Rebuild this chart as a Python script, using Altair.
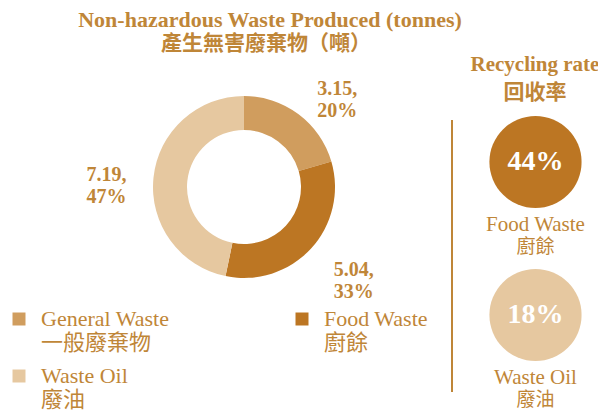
import altair as alt
import pandas as pd

# ---- data ----
categories = ["General Waste", "Food Waste", "Waste Oil"]
categories_zh = ["一般廢棄物", "廚餘", "廢油"]
tonnes = [3.15, 5.04, 7.19]
slice_colors = ["#D09D5E", "#BC7623", "#E6C8A0"]

rate_categories = ["Food Waste", "Waste Oil"]
rate_categories_zh = ["廚餘", "廢油"]
rates = [44, 18]

title_en = "Non-hazardous Waste Produced (tonnes)"
title_zh = "產生無害廢棄物（噸）"
rate_title_en = "Recycling rate"
rate_title_zh = "回收率"

TEXT = "#BF8638"
FONT = "'Liberation Serif', 'Noto Sans CJK TC'"

waste = pd.DataFrame({"category": categories, "zh": categories_zh,
                      "tonnes": tonnes, "order": list(range(len(categories)))})
rate_df = pd.DataFrame({"category": rate_categories, "zh": rate_categories_zh,
                        "rate": rates})

zh_lookup = "''"
for en, zh in reversed(list(zip(categories, categories_zh))):
    zh_lookup = f"datum.label == '{en}' ? '{zh}' : ({zh_lookup})"
label_expr = f"[datum.label, {zh_lookup}]"

CX, CY = 236, 179

color = alt.Color(
    "category:N",
    scale=alt.Scale(domain=categories, range=slice_colors),
    legend=alt.Legend(
        title=None, orient="none", legendX=0, legendY=300, columns=2,
        direction="horizontal", padding=0,
        symbolType="square", symbolSize=169, symbolStrokeWidth=0,
        labelFont=FONT, labelFontSize=22, labelColor=TEXT,
        labelOffset=11, rowPadding=11, columnPadding=121,
        labelExpr=label_expr, labelLimit=300,
    ),
)

theta = alt.Theta("tonnes:Q", stack=True)
order = alt.Order("order:Q")

arc = alt.Chart(waste).mark_arc(outerRadius=91, innerRadius=57).encode(
    theta=theta, order=order, color=color,
    x=alt.value(CX), y=alt.value(CY),
)

lab_base = (
    alt.Chart(waste)
    .transform_joinaggregate(total="sum(tonnes)")
    .transform_window(cum="sum(tonnes)", sort=[alt.SortField("order")], frame=[None, 0])
    .transform_calculate(
        mid="datum.cum - datum.tonnes / 2",
        lines="[format(datum.tonnes, '.2f') + ',', format(100 * datum.tonnes / datum.total, '.0f') + '%']",
    )
)
lab_right = lab_base.transform_calculate(
    t="datum.mid < datum.total / 2 ? datum.lines : ''"
).mark_text(radius=122, align="left", baseline="middle", font=FONT, fontSize=20,
            fontWeight="bold", color=TEXT, lineHeight=22).encode(
    theta=theta, order=order, text="t:N", x=alt.value(CX), y=alt.value(CY))
lab_left = lab_base.transform_calculate(
    t="datum.mid >= datum.total / 2 ? datum.lines : ''"
).mark_text(radius=118, align="right", baseline="middle", font=FONT, fontSize=20,
            fontWeight="bold", color=TEXT, lineHeight=22).encode(
    theta=theta, order=order, text="t:N", x=alt.value(CX), y=alt.value(CY))


def title_text(txt, x, y, size):
    return alt.Chart(pd.DataFrame({"t": [txt]})).mark_text(
        font=FONT, fontSize=size, fontWeight="bold", color=TEXT,
        align="center", baseline="alphabetic",
    ).encode(text="t:N", x=alt.value(x), y=alt.value(y))


titles = [
    title_text(title_en, 262, 19, 22),
    title_text(title_zh, 258, 42, 21),
    title_text(rate_title_en, 527, 63, 21),
    title_text(rate_title_zh, 527, 91, 21),
]

RX = 527.5
ry = alt.Y("category:N", scale=alt.Scale(domain=rate_categories, range=[154, 307], padding=0),
           axis=None)

circles = alt.Chart(rate_df).mark_circle(size=8495, opacity=1).encode(
    x=alt.value(RX), y=ry, color=alt.Color("category:N"))
pct = alt.Chart(rate_df).transform_calculate(lbl="datum.rate + '%'").mark_text(
    font=FONT, fontSize=28, fontWeight="bold", color="white", baseline="middle"
).encode(x=alt.value(RX), y=ry, text="lbl:N")
name_en = alt.Chart(rate_df).mark_text(
    font=FONT, fontSize=21, color=TEXT, baseline="alphabetic", dy=69
).encode(x=alt.value(RX), y=ry, text="category:N")
name_zh = alt.Chart(rate_df).mark_text(
    font=FONT, fontSize=19, color=TEXT, baseline="alphabetic", dy=91
).encode(x=alt.value(RX), y=ry, text="zh:N")

rule = alt.Chart(pd.DataFrame({"a": [0]})).mark_rule(color=TEXT, strokeWidth=2).encode(
    x=alt.value(444), y=alt.value(112), y2=alt.value(384))

chart = alt.layer(
    arc, lab_right, lab_left, *titles, rule, circles, pct, name_en, name_zh
).properties(width=590, height=403, padding=0, autosize="none").configure_view(stroke=None)

chart.save("out.html", embed_options={"renderer": "svg", "actions": False})
